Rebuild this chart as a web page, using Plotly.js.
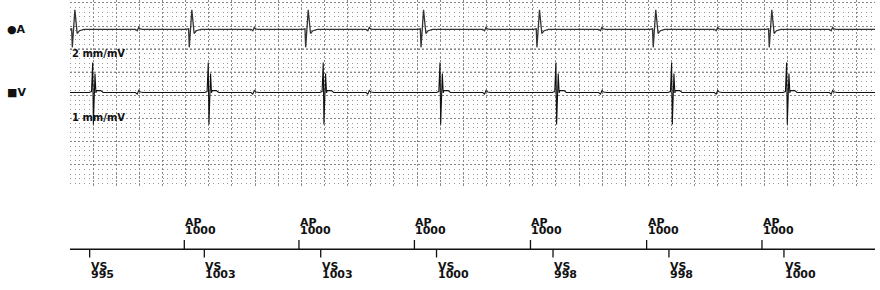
<!DOCTYPE html>
<html><head><meta charset="utf-8">
<script src="https://cdn.plot.ly/plotly-3.0.1.min.js"></script>
<style>html,body{margin:0;padding:0;background:#fff}</style>
</head><body><div id="chart" style="width:880px;height:290px"></div>
<script>
// ---- DATA (times in ms, amplitudes in mV) ----
const aSpikeTimes = [20, 1031, 2037, 3034, 4036, 5041, 6044];
const vSpikeTimes = [196, 1195, 2189, 3198, 4200, 5200, 6194];

// atrial electrogram complex, offsets from each atrial spike
const aComplexOffsets = [-30, -6, 0, 22, 42, 62, 100];
const aComplexValues  = [0, 0.05, -1.95, 2.1, -0.45, -0.15, 0];
// far-field ventricular wiggle seen on the atrial channel, offsets from each V spike
const aFarFieldOffsets = [370, 385, 398, 410, 430];
const aFarFieldValues  = [0, -0.15, 0.2, 0.05, 0];

// ventricular electrogram complex, offsets from each V spike
const vComplexOffsets = [-30, -10, 0, 6, 20, 28, 34, 70, 90];
const vComplexValues  = [0, 0.2, 6.5, -6.9, 4.1, -0.1, 0.45, 0.4, 0];
// T-wave wiggle on the ventricular channel
const vTWaveOffsets = [370, 385, 398, 412, 440];
const vTWaveValues  = [0, -0.35, 0.45, 0.1, 0];

// marker channel
const apMarkerTimes = [988, 1979, 2977, 3980, 4984, 5981];
const apMarkerLabels = ["1000", "1000", "1000", "1000", "1000", "1000"];
const vsMarkerTimes = [170, 1161, 2167, 3168, 4175, 5177, 6171];
const vsMarkerLabels = ["995", "1003", "1003", "1000", "998", "998", "1000"];

const channelNames = ["A", "V"];
const channelSymbols = ["●", "■"];
const channelGainLabels = ["2 mm/mV", "1 mm/mV"];
const channelGains = [2, 1];   // mm per mV

// ---- LAYOUT CONSTANTS ----
const W = 880, H = 290, ML = 70, MR = 5;
const XEND = 6958;            // ms shown across the strip
const GRID_BOTTOM_PX = 188;   // bottom of the grid
const PX_PER_MM = 4.628;
const yMaxMM = GRID_BOTTOM_PX / PX_PER_MM;
const aBaseMM = (GRID_BOTTOM_PX - 29.3) / PX_PER_MM;
const vBaseMM = (GRID_BOTTOM_PX - 92.5) / PX_PER_MM;

function buildTrace(parts, base, gain) {
  const pts = [];
  parts.forEach(([times, offs, vals]) => {
    times.forEach(t0 => offs.forEach((o, i) => pts.push([t0 + o, vals[i]])));
  });
  pts.push([0, 0], [XEND, 0]);
  pts.sort((p, q) => p[0] - q[0]);
  return {x: pts.map(p => p[0]), y: pts.map(p => base + gain * p[1])};
}
const aTr = buildTrace([[aSpikeTimes, aComplexOffsets, aComplexValues],
                        [vSpikeTimes, aFarFieldOffsets, aFarFieldValues]], aBaseMM, channelGains[0]);
const vTr = buildTrace([[vSpikeTimes, vComplexOffsets, vComplexValues],
                        [vSpikeTimes, vTWaveOffsets, vTWaveValues]], vBaseMM, channelGains[1]);

// marker bar geometry (yaxis2 units = pixels from figure bottom)
const barY = H - 249.3, apTop = H - 240, vsBot = H - 257.5;
function ticks(times, y0, y1) {
  const x = [], y = [];
  times.forEach(t => { x.push(t, t, null); y.push(y0, y1, null); });
  return {x, y};
}
const apT = ticks(apMarkerTimes, barY, apTop);
const vsT = ticks(vsMarkerTimes, barY, vsBot);

const traces = [
  {x: aTr.x, y: aTr.y, xaxis: 'x', yaxis: 'y', mode: 'lines',
   line: {color: '#333', width: 1.3}, hoverinfo: 'skip'},
  {x: vTr.x, y: vTr.y, xaxis: 'x', yaxis: 'y', mode: 'lines',
   line: {color: '#111', width: 1.1}, hoverinfo: 'skip'},
  {x: [0, XEND], y: [barY, barY], xaxis: 'x2', yaxis: 'y2', mode: 'lines',
   line: {color: '#111', width: 1.4}, hoverinfo: 'skip'},
  {x: apT.x, y: apT.y, xaxis: 'x2', yaxis: 'y2', mode: 'lines',
   line: {color: '#111', width: 1.3}, hoverinfo: 'skip'},
  {x: vsT.x, y: vsT.y, xaxis: 'x2', yaxis: 'y2', mode: 'lines',
   line: {color: '#111', width: 1.3}, hoverinfo: 'skip'}
];

const lblFont = {family: 'DejaVu Sans', size: 11, color: '#111', weight: 'bold'};
const annotations = [];
apMarkerTimes.forEach((t, i) => {
  annotations.push({x: t, y: H - 222, xref: 'x2', yref: 'y2', text: 'AP', showarrow: false,
    xanchor: 'left', yanchor: 'middle', xshift: -1, font: lblFont});
  annotations.push({x: t, y: H - 230, xref: 'x2', yref: 'y2', text: apMarkerLabels[i], showarrow: false,
    xanchor: 'left', yanchor: 'middle', xshift: -1, font: lblFont});
});
vsMarkerTimes.forEach((t, i) => {
  annotations.push({x: t, y: H - 266.7, xref: 'x2', yref: 'y2', text: 'VS', showarrow: false,
    xanchor: 'left', yanchor: 'middle', xshift: -1, font: lblFont});
  annotations.push({x: t, y: H - 274.7, xref: 'x2', yref: 'y2', text: vsMarkerLabels[i], showarrow: false,
    xanchor: 'left', yanchor: 'middle', xshift: -1, font: lblFont});
});
const chY = [30, 93], gainY = [53.7, 118];
channelNames.forEach((n, i) => {
  annotations.push({x: (5 - ML) / (W - ML - MR), y: 1 - chY[i] / H, xref: 'paper', yref: 'paper',
    text: channelSymbols[i] + n, showarrow: false, xanchor: 'left', yanchor: 'middle', font: lblFont});
  annotations.push({x: 0, y: 1 - gainY[i] / H, xref: 'paper', yref: 'paper',
    text: channelGainLabels[i], showarrow: false, xanchor: 'left', yanchor: 'middle',
    font: {family: 'DejaVu Sans', size: 10, color: '#111', weight: 'bold'}});
});

// darker separators between the two channels (grid rows at 25 and 30 mm)
const shapes = [25, 30].map(v => ({type: 'line', xref: 'paper', yref: 'y', x0: 0, x1: 1, y0: v, y1: v,
  line: {color: '#222', width: 1, dash: '2px,2px'}, layer: 'below'}));

const hidden = {visible: false, showgrid: false, zeroline: false, fixedrange: true};
const layout = {
  width: W, height: H, margin: {l: ML, r: MR, t: 0, b: 0, pad: 0},
  paper_bgcolor: '#fff', plot_bgcolor: '#fff', showlegend: false,
  xaxis: {range: [0, XEND], dtick: 200, tick0: 0, showgrid: true, gridcolor: '#888',
    griddash: '2px,2px', gridwidth: 1, zeroline: false, showticklabels: false, ticks: '',
    showline: false, anchor: 'y', fixedrange: true},
  yaxis: {domain: [1 - GRID_BOTTOM_PX / H, 1], range: [0, yMaxMM], dtick: 5, tick0: 0,
    showgrid: true, gridcolor: '#888', griddash: '2px,2px', gridwidth: 1,
    zeroline: false, showticklabels: false, ticks: '', anchor: 'x', fixedrange: true,
    minor: {dtick: 1, tick0: 0, showgrid: true, gridcolor: '#999', griddash: '1px,3.628px', gridwidth: 1}},
  xaxis2: Object.assign({}, hidden, {range: [0, XEND], anchor: 'y2'}),
  yaxis2: Object.assign({}, hidden, {domain: [0, 90 / H], range: [0, 90], anchor: 'x2'}),
  shapes: shapes,
  annotations: annotations
};
Plotly.newPlot('chart', traces, layout, {staticPlot: true, displayModeBar: false});
</script></body></html>
